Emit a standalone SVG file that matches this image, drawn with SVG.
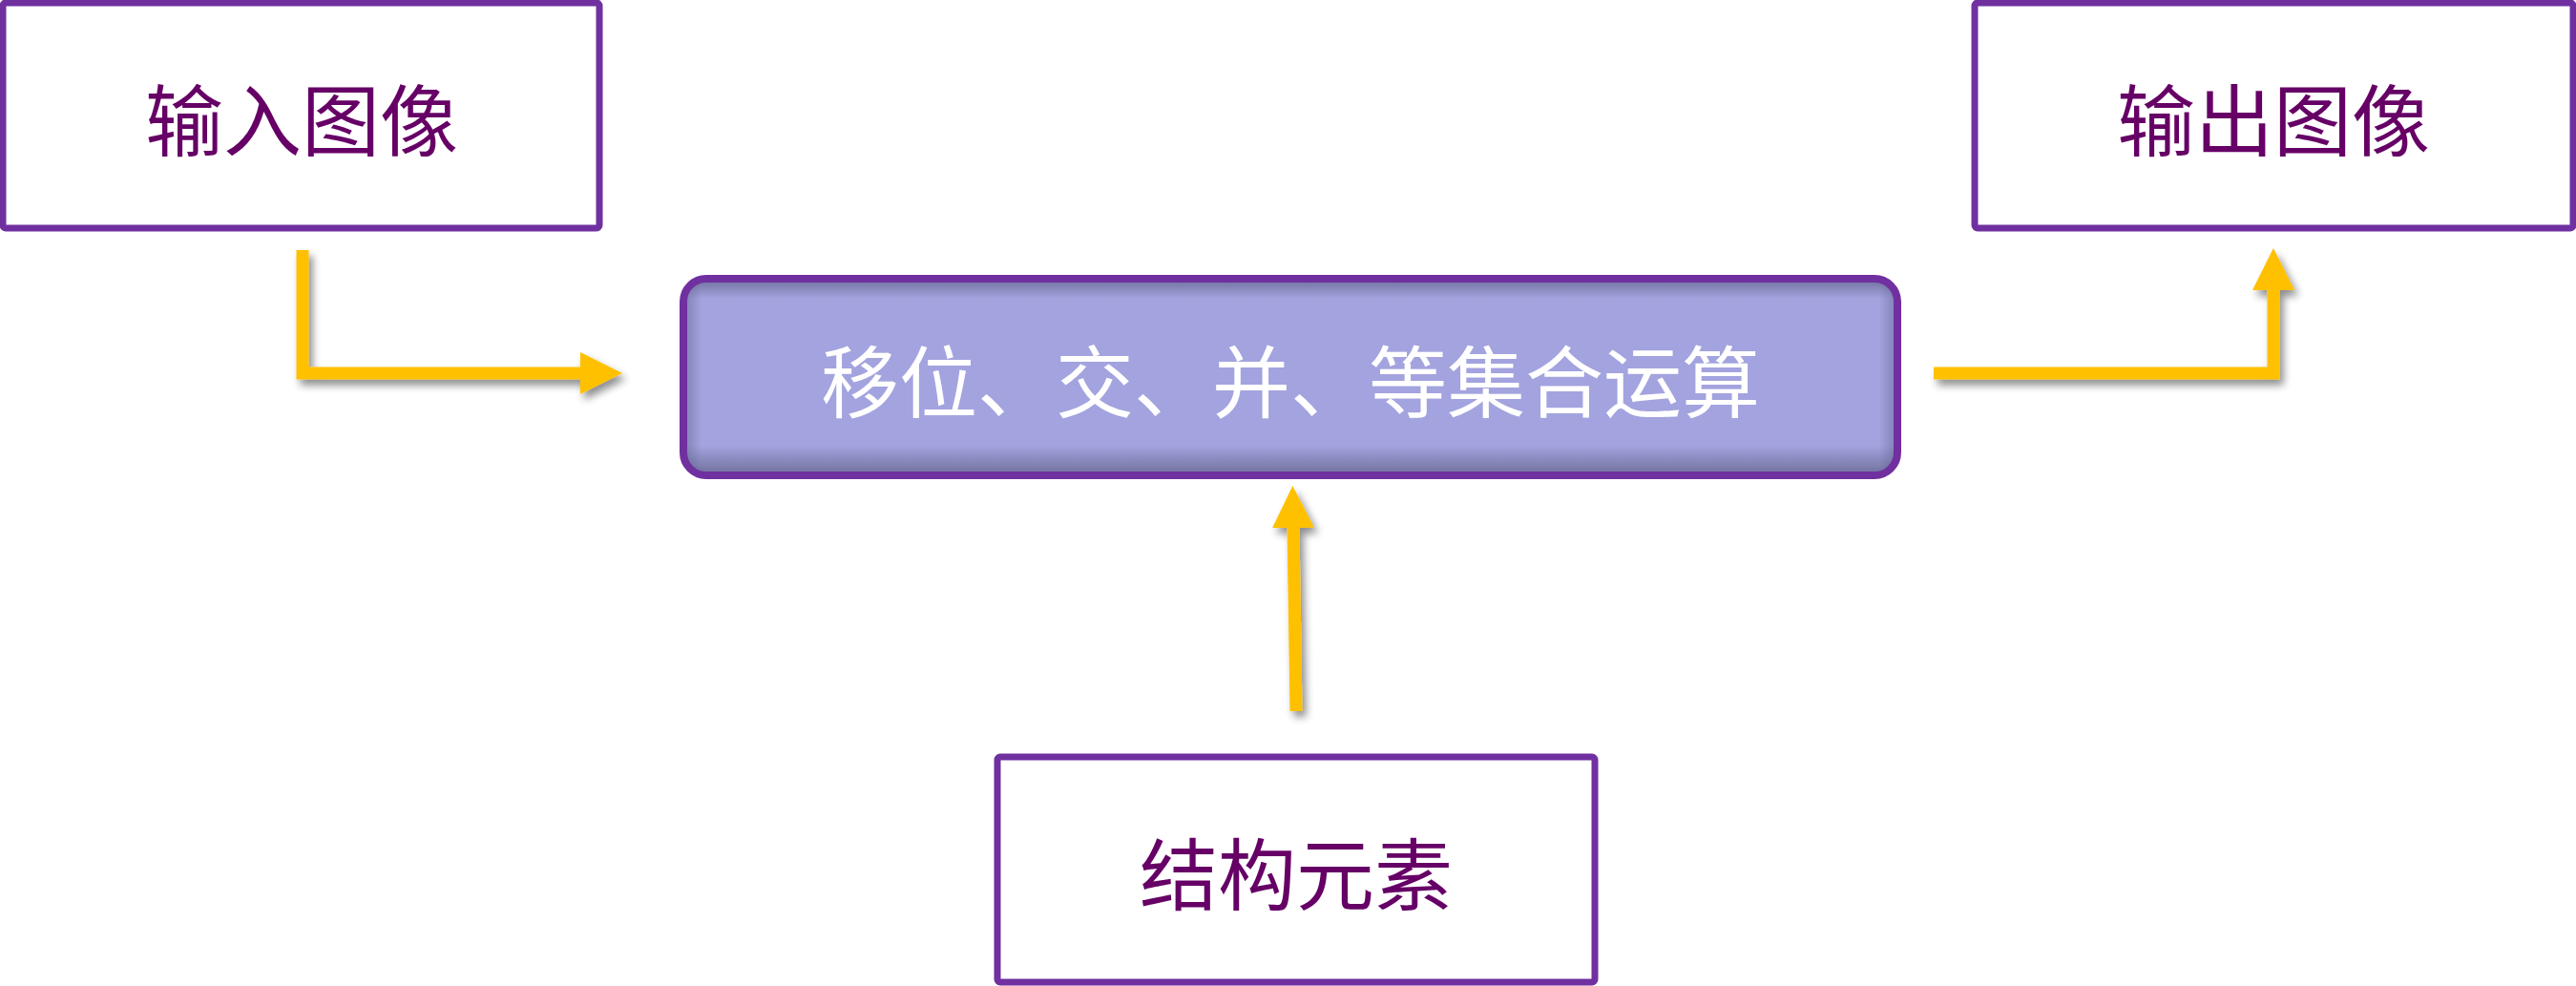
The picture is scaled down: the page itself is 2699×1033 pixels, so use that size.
<svg xmlns="http://www.w3.org/2000/svg" width="2699" height="1033" viewBox="0 0 2699 1033">
<style>
.box{fill:#FFFFFF;stroke:#7030A0;stroke-width:7}
.lbl{font-family:"Noto Sans CJK SC","Noto Sans",sans-serif;font-size:82px;fill:#660066;text-anchor:middle;dominant-baseline:central}
.op{font-family:"Noto Sans CJK SC","Noto Sans",sans-serif;font-size:82px;fill:#FFFFFF;text-anchor:middle;dominant-baseline:central}
.conn{fill:none;stroke:#FFC000;stroke-width:13;stroke-linejoin:miter}
</style>
<defs>
<linearGradient id="vg" x1="0" y1="0" x2="0" y2="1">
<stop offset="0" stop-color="#6E6E9C"/>
<stop offset="0.1" stop-color="#A3A3DF"/>
<stop offset="0.85" stop-color="#A3A3DF"/>
<stop offset="1" stop-color="#6E6E9A"/>
</linearGradient>
<linearGradient id="hg" x1="0" y1="0" x2="1" y2="0">
<stop offset="0" stop-color="#5A5A88" stop-opacity="0.5"/>
<stop offset="0.015" stop-color="#5A5A88" stop-opacity="0"/>
<stop offset="0.985" stop-color="#5A5A88" stop-opacity="0"/>
<stop offset="1" stop-color="#5A5A88" stop-opacity="0.5"/>
</linearGradient>
<filter id="sh" x="-20%" y="-20%" width="140%" height="140%">
<feGaussianBlur in="SourceAlpha" stdDeviation="4"/>
<feOffset dx="4" dy="6" result="b"/>
<feComponentTransfer><feFuncA type="linear" slope="0.45"/></feComponentTransfer>
<feMerge><feMergeNode/><feMergeNode in="SourceGraphic"/></feMerge>
</filter>
<marker id="ah" markerUnits="userSpaceOnUse" markerWidth="44" markerHeight="44" viewBox="0 0 42 42" refX="0" refY="21" orient="auto">
<path d="M0,0 L42,21 L0,42 Z" fill="#FFC000"/>
</marker>
</defs>

<g id="connectors" filter="url(#sh)">
<path class="conn" d="M317,262 V391 H608" marker-end="url(#ah)"/>
<path class="conn" d="M2026,391 H2382 V304" marker-end="url(#ah)"/>
<path class="conn" d="M1358,745 L1355,553" marker-end="url(#ah)"/>
</g>

<g id="input">
<rect class="box" x="3" y="3" width="625" height="236" rx="3"/>
<text class="lbl" x="316" y="121">输入图像</text>
</g>

<g id="output">
<rect class="box" x="2069" y="3" width="627" height="236" rx="3"/>
<text class="lbl" x="2382" y="121">输出图像</text>
</g>

<g id="operation">
<rect x="716" y="292" width="1272" height="206" rx="24" fill="url(#vg)"/>
<rect x="716" y="292" width="1272" height="206" rx="24" fill="url(#hg)"/>
<rect x="716" y="292" width="1272" height="206" rx="24" fill="none" stroke="#7030A0" stroke-width="8"/>
<text class="op" x="1352" y="395">移位、交、并、等集合运算</text>
</g>

<g id="structure">
<rect class="box" x="1045" y="793" width="626" height="236" rx="3"/>
<text class="lbl" x="1358" y="911">结构元素</text>
</g>
</svg>
